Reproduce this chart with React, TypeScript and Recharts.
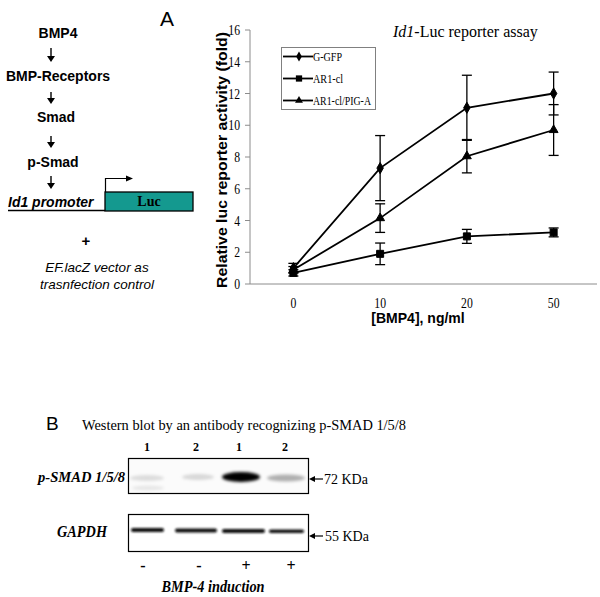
import React from 'react';
import { LineChart, Line, XAxis, YAxis, ErrorBar, Legend, Symbols } from 'recharts';

// Id1-Luc reporter assay
const doses = ['0', '10', '20', '50'];
const gfpMean = [1.0, 7.3, 11.1, 12.0];
const gfpErr = [0.3, 2.05, 2.05, 1.35];
const ar1Mean = [0.7, 1.9, 3.0, 3.25];
const ar1Err = [0.2, 0.68, 0.44, 0.28];
const pigMean = [0.9, 4.15, 8.05, 9.7];
const pigErr = [0.2, 0.9, 1.05, 1.6];
const yTicks = [0, 2, 4, 6, 8, 10, 12, 14, 16];
const bandCenters = [0.5, 1.5, 2.5, 3.5];
const bandEdges = [1, 2, 3, 4];

// western blot lanes (decorative, panel B)
const laneLabels = ['1', '2', '1', '2'];
const bmpInduction = ['-', '-', '+', '+'];
const smadBands = [0.12, 0.14, 1, 0.3];

const SERIF = '"Liberation Serif", "Times New Roman", serif';
const SANS = '"Liberation Sans", Arial, sans-serif';
const AXIS_GRAY = '#8c8c8c';

const series = [
  { key: 'gfp', name: 'G-GFP', symbol: 'diamond', size: 36, textLen: 29 },
  { key: 'ar1', name: 'AR1-cl', symbol: 'square', size: 49, textLen: 30 },
  { key: 'pig', name: 'AR1-cl/PIG-A', symbol: 'triangle', size: 34, textLen: 58 },
] as const;

const data = doses.map((d, i) => ({
  x: bandCenters[i],
  dose: d,
  gfp: gfpMean[i],
  gfpErr: gfpErr[i],
  ar1: ar1Mean[i],
  ar1Err: ar1Err[i],
  pig: pigMean[i],
  pigErr: pigErr[i],
}));

const markerDot = (type: any, size: number) => (props: any) => {
  const { cx, cy, index } = props;
  if (cx == null || cy == null) return <g key={index} />;
  return <Symbols key={index} cx={cx} cy={cy} type={type} size={size} fill="#000" stroke="#000" />;
};

const YTick = ({ x, y, payload }: any) => (
  <text
    transform={`translate(${x - 3},${y + 5}) scale(0.78,1)`}
    textAnchor="end"
    fontFamily={SERIF}
    fontSize={15}
    fill="#000"
  >
    {payload.value}
  </text>
);

const XTick = ({ x, y, payload }: any) => (
  <text
    transform={`translate(${x},${y + 10}) scale(0.78,1)`}
    textAnchor="middle"
    fontFamily={SERIF}
    fontSize={15}
    fill="#000"
  >
    {doses[Math.floor(payload.value)]}
  </text>
);

const renderLegend = () => (
  <svg width={92} height={61} style={{ display: 'block', overflow: 'visible' }}>
    {series.map((s, i) => {
      const cy = 8.5 + i * 22;
      return (
        <g key={s.key}>
          <line x1={1} y1={cy} x2={31} y2={cy} stroke="#000" strokeWidth={1.8} />
          <Symbols cx={17} cy={cy} type={s.symbol as any} size={s.size * 0.8} fill="#000" />
          <text
            x={31}
            y={cy + 4}
            fontFamily={SERIF}
            fontSize={12}
            textLength={s.textLen}
            lengthAdjust="spacingAndGlyphs"
            fill="#000"
          >
            {s.name}
          </text>
        </g>
      );
    })}
  </svg>
);

const DownArrow = ({ x, y1, y2 }: { x: number; y1: number; y2: number }) => (
  <g>
    <line x1={x} y1={y1} x2={x} y2={y2 - 4} stroke="#000" strokeWidth={1.4} />
    <polygon points={`${x - 4},${y2 - 6} ${x + 4},${y2 - 6} ${x},${y2}`} fill="#000" />
  </g>
);

export default function App() {
  return (
    <div style={{ position: 'absolute', left: 0, top: 0, width: 600, height: 597, background: '#fff' }}>
      <div style={{ position: 'absolute', left: 0, top: 0 }}>
        <LineChart width={600} height={320} data={data} margin={{ top: 30, right: 3, left: 220, bottom: 6 }}>
          <XAxis
            type="number"
            dataKey="x"
            domain={[0, 4]}
            ticks={bandEdges}
            tick={false}
            tickSize={5}
            height={6}
            stroke={AXIS_GRAY}
            axisLine={{ stroke: AXIS_GRAY }}
            tickLine={{ stroke: AXIS_GRAY }}
            allowDataOverflow
          />
          <XAxis
            xAxisId="lbl"
            type="number"
            dataKey="x"
            domain={[0, 4]}
            ticks={bandCenters}
            axisLine={false}
            tickLine={false}
            height={24}
            tick={<XTick />}
            interval={0}
            allowDataOverflow
          />
          <YAxis
            domain={[0, 16]}
            ticks={yTicks}
            interval={0}
            width={30}
            tickSize={5}
            axisLine={{ stroke: AXIS_GRAY }}
            tickLine={{ stroke: AXIS_GRAY }}
            tick={<YTick />}
            allowDataOverflow
          />
          <Legend
            layout="horizontal"
            verticalAlign="middle"
            align="center"
            content={renderLegend}
            wrapperStyle={{ left: 281, top: 47, width: 95, height: 63, border: '1px solid #808080', background: '#fff', boxSizing: 'border-box', overflow: 'visible' }}
          />
          {series.map((s) => (
            <Line
              key={s.key}
              name={s.name}
              dataKey={s.key}
              stroke="#000"
              strokeWidth={1.8}
              dot={markerDot(s.symbol, s.size)}
              activeDot={false}
              isAnimationActive={false}
            >
              <ErrorBar dataKey={`${s.key}Err`} width={5} stroke="#000" strokeWidth={1.3} direction="y" />
            </Line>
          ))}
        </LineChart>
      </div>

      <svg width={600} height={597} style={{ position: 'absolute', left: 0, top: 0, pointerEvents: 'none' }}>
        <defs>
          <filter id="blur" x="-20%" y="-100%" width="140%" height="300%">
            <feGaussianBlur stdDeviation="1.6" />
          </filter>
          <filter id="blur2" x="-20%" y="-100%" width="140%" height="300%">
            <feGaussianBlur stdDeviation="0.8" />
          </filter>
        </defs>

        {/* panel A, schematic */}
        <text x={160} y={26} fontFamily={SANS} fontSize={21}>A</text>
        <g fontFamily={SANS} fontSize={14} fontWeight="bold" textAnchor="middle">
          <text x={58} y={38}>BMP4</text>
          <text x={58} y={81}>BMP-Receptors</text>
          <text x={56} y={122}>Smad</text>
          <text x={53} y={167}>p-Smad</text>
        </g>
        <DownArrow x={51} y1={48} y2={62} />
        <DownArrow x={51} y1={92} y2={104} />
        <DownArrow x={51} y1={136} y2={148} />
        <DownArrow x={51} y1={176} y2={189} />
        <text x={8} y={207} fontFamily={SANS} fontSize={14} fontWeight="bold" fontStyle="italic">Id1 promoter</text>
        <line x1={8} y1={210.5} x2={105} y2={210.5} stroke="#000" strokeWidth={1.3} />
        <rect x={105} y={192} width={88} height={19} fill="#14998f" stroke="#000" strokeWidth={1.3} />
        <text x={149} y={206} textAnchor="middle" fontFamily={SERIF} fontSize={14} fontWeight="bold">Luc</text>
        <path d="M105.5 192 V178.5 H127" fill="none" stroke="#000" strokeWidth={1.2} />
        <polygon points="126,175.5 133,178.5 126,181.5" fill="#000" />
        <text x={86} y={246} textAnchor="middle" fontFamily={SANS} fontSize={15} fontWeight="bold">+</text>
        <g fontFamily={SANS} fontSize={13.5} fontStyle="italic" textAnchor="middle">
          <text x={97} y={272}>EF.lacZ vector as</text>
          <text x={97} y={289}>trasnfection control</text>
        </g>

        {/* chart titles */}
        <text x={393} y={37} fontFamily={SERIF} fontSize={16}>
          <tspan fontStyle="italic">Id1</tspan>-Luc reporter assay
        </text>
        <text
          transform="translate(227,160) rotate(-90)"
          textAnchor="middle"
          fontFamily={SANS}
          fontSize={14}
          fontWeight="bold"
          textLength={256}
          lengthAdjust="spacingAndGlyphs"
        >
          Relative luc reporter activity (fold)
        </text>
        <text x={418} y={323} textAnchor="middle" fontFamily={SANS} fontSize={14} fontWeight="bold">[BMP4], ng/ml</text>

        {/* panel B, western blot */}
        <text x={46} y={430} fontFamily={SANS} fontSize={19}>B</text>
        <text x={82} y={430} fontFamily={SERIF} fontSize={15} textLength={324} lengthAdjust="spacingAndGlyphs">
          Western blot by an antibody recognizing p-SMAD 1/5/8
        </text>
        {laneLabels.map((l, i) => (
          <text key={i} x={[147, 196, 239, 285][i]} y={451} textAnchor="middle" fontFamily={SERIF} fontSize={12} fontWeight="bold">{l}</text>
        ))}
        <text x={38} y={482} fontFamily={SERIF} fontSize={15} fontWeight="bold" fontStyle="italic" textLength={87} lengthAdjust="spacingAndGlyphs">
          p-SMAD 1/5/8
        </text>
        <rect x={128.5} y={458.5} width={180} height={35} fill="#fbfbfb" stroke="#000" strokeWidth={1.2} />
        <g filter="url(#blur)">
          <ellipse cx={147} cy={478} rx={17} ry={3} fill="#000" opacity={smadBands[0]} />
          <ellipse cx={148} cy={488} rx={16} ry={2.5} fill="#000" opacity={0.08} />
          <ellipse cx={198} cy={477} rx={16} ry={3} fill="#000" opacity={smadBands[1]} />
          <ellipse cx={241} cy={477} rx={19} ry={5} fill="#000" opacity={smadBands[2]} />
          <ellipse cx={286} cy={478} rx={19} ry={3.5} fill="#000" opacity={smadBands[3]} />
        </g>
        <line x1={313} y1={479} x2={323} y2={479} stroke="#000" strokeWidth={1.2} />
        <polygon points="309,479 315,476 315,482" fill="#000" />
        <text x={324} y={484} fontFamily={SERIF} fontSize={14}>72 KDa</text>

        <text x={57} y={537} fontFamily={SERIF} fontSize={16} fontWeight="bold" fontStyle="italic" textLength={50} lengthAdjust="spacingAndGlyphs">
          GAPDH
        </text>
        <rect x={128.5} y={514.5} width={180} height={37} fill="#fff" stroke="#000" strokeWidth={1.2} />
        <g filter="url(#blur2)">
          <rect x={131} y={528} width={33} height={4} rx={2} fill="#111" />
          <rect x={175} y={528.5} width={42} height={4} rx={2} fill="#111" />
          <rect x={222} y={529} width={43} height={4} rx={2} fill="#111" />
          <rect x={269} y={529.5} width={35} height={3.5} rx={2} fill="#111" />
        </g>
        <line x1={313} y1={536} x2={323} y2={536} stroke="#000" strokeWidth={1.2} />
        <polygon points="309,536 315,533 315,539" fill="#000" />
        <text x={325} y={541} fontFamily={SERIF} fontSize={14}>55 KDa</text>

        {bmpInduction.map((s, i) => (
          <text key={i} x={[143, 199, 246, 291][i]} y={571} textAnchor="middle" fontFamily={SERIF} fontSize={16} fontWeight="bold">{s}</text>
        ))}
        <text x={213} y={592} textAnchor="middle" fontFamily={SERIF} fontSize={16} fontWeight="bold" fontStyle="italic" textLength={103} lengthAdjust="spacingAndGlyphs">
          BMP-4 induction
        </text>
      </svg>
    </div>
  );
}
